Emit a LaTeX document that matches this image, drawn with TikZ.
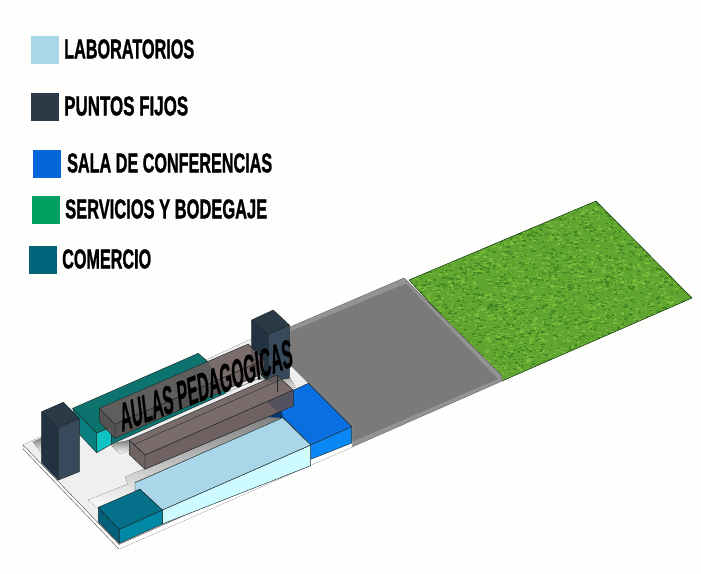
\documentclass[tikz,border=0pt]{standalone}
\usepackage{fontspec}
\setmainfont{Liberation Sans}
\newfontfamily\legendfont[FakeBold=1.5]{Liberation Sans Bold}
\newfontfamily\slantfont[FakeBold=0.6,FakeSlant=0.6]{Liberation Sans Bold}
\usepackage{graphicx}
\definecolor{bgc}{HTML}{FEFEFC}
\definecolor{labtop}{HTML}{A9D6E8}
\definecolor{labfront}{HTML}{CDFBFF}
\definecolor{towtop}{HTML}{2A3A47}
\definecolor{towleft}{HTML}{233240}
\definecolor{towright}{HTML}{37495A}
\definecolor{bluetop}{HTML}{0A6FE0}
\definecolor{bluefront}{HTML}{0A86F5}
\definecolor{legblue}{HTML}{0566D9}
\definecolor{leggreen}{HTML}{00A063}
\definecolor{legteal}{HTML}{00647A}
\definecolor{comtop}{HTML}{04708A}
\definecolor{comleft}{HTML}{03607A}
\definecolor{comfront}{HTML}{0188A5}
\definecolor{tealtop}{HTML}{0C736F}
\definecolor{tealleft}{HTML}{0A7F80}
\definecolor{tealfront}{HTML}{10C3C3}
\definecolor{slabc}{HTML}{7A7A7A}
\definecolor{slabrim}{HTML}{939393}
\definecolor{plate}{HTML}{EFEFEF}
\definecolor{shade}{HTML}{9C9C9C}
\definecolor{halltop}{HTML}{6C5B5B}
\definecolor{hallfront}{HTML}{5F4F4F}
\definecolor{grassa}{HTML}{5FA52F}
\definecolor{grassb}{HTML}{3A7C22}
\definecolor{grassc}{HTML}{86C440}
\definecolor{edgec}{HTML}{1E2A2A}
\tikzset{
  face/.style={draw=edgec,line width=0.45pt,line join=round},
  swatch/.style={minimum width=28pt,minimum height=28pt,inner sep=0pt,anchor=north west},
  legendtext/.style={anchor=west,inner sep=0pt,text=black},
  hall/.style={face,fill opacity=0.88}
}
\newcommand{\legtxt}[2]{\resizebox{#1pt}{19pt}{\legendfont #2}}
\begin{document}
\begin{tikzpicture}[x=1pt,y=-1pt]
\useasboundingbox (0,0) rectangle (701,573);
\fill[bgc] (0,0) rectangle (701,573);
% legend
\node[swatch,fill=labtop] (s1) at (31,36) {};
\node[swatch,fill=towtop] (s2) at (31,93) {};
\node[swatch,fill=legblue] (s3) at (33,150) {};
\node[swatch,fill=leggreen] (s4) at (32,196) {};
\node[swatch,fill=legteal] (s5) at (29,246) {};
\node[legendtext] (t1) at (64,49) {\legtxt{130}{LABORATORIOS}};
\node[legendtext] (t2) at (64,106) {\legtxt{124}{PUNTOS FIJOS}};
\node[legendtext] (t3) at (67,163) {\legtxt{205}{SALA DE CONFERENCIAS}};
\node[legendtext] (t4) at (65,209) {\legtxt{202}{SERVICIOS Y BODEGAJE}};
\node[legendtext] (t5) at (62,259) {\legtxt{89}{COMERCIO}};
% grass
\begin{scope}
\clip (409,280) -- (596,201) -- (692,298) -- (502,381) -- cycle;
\fill[grassa] (400,195) rectangle (695,385);
\pgfmathsetseed{11}
\foreach \c/\n in {grassb/2600,grassc/2600}{
  \foreach \i in {1,...,\n}{
    \pgfmathsetmacro{\px}{405+rnd*290}
    \pgfmathsetmacro{\py}{198+rnd*186}
    \pgfmathsetmacro{\dx}{1+rnd*3}
    \fill[\c,opacity=0.65] (\px,\py) rectangle +(\dx,1.4);
  }
}
\end{scope}
\draw[face,draw=black!70!green!50!black] (409,280) -- (596,201) -- (692,298) -- (502,381) -- cycle;
% grey slab
\fill[slabrim,draw=black!60,line width=0.4pt] (255,342) -- (404,278) -- (502,376) -- (502,381) -- (352,447) -- cycle;
\fill[slabc] (255,346) -- (406,283.5) -- (498,379) -- (354,441) -- cycle;
% plate
\fill[white,draw=black!70,line width=0.4pt] (23,445) -- (23,449) -- (119,549) -- (352,447) -- (352,427) -- (260,335) -- cycle;
\fill[plate] (23,445) -- (260,335) -- (352,427) -- (310.7,459) -- (119,544.5) -- cycle;
\fill[white] (119,544.5) -- (352,442) -- (352,447) -- (119,549) -- cycle;
\draw[black!70,line width=0.4pt] (23,445) -- (119,544.5) -- (310.7,459.3);
% shadows on plate
\fill[shade] (33,442) -- (41.7,438) -- (41.7,453) -- cycle;
\fill[shade] (125,476.7) -- (146.7,468) -- (266.7,416.7) -- (283,418) -- (135,482) -- (135,492) -- (98,508) -- (88,500) -- (128,484) -- cycle;
\fill[shade] (110,444) -- (130,440) -- (130,450) -- (120,454) -- cycle;
\fill[shade] (226,393) -- (258,379) -- (296,388) -- (290,378) -- (276,370) -- cycle;
% teal block
\path[face,fill=tealleft] (72.7,408.3) -- (96.7,433) -- (96.7,452.7) -- (80,435) -- cycle;
\path[face,fill=tealfront] (96.7,433) -- (111.7,427) -- (111.7,444) -- (96.7,452.7) -- cycle;
\path[face,fill=tealtop] (72.7,408.3) -- (198.3,353.3) -- (206.7,360.7) -- (226,393) -- (111.7,444) -- (111.7,427) -- (96.7,433) -- cycle;
% left tower
\path[face,fill=towleft] (41.7,411.7) -- (58.3,427.3) -- (58.3,480) -- (41.7,463) -- cycle;
\path[face,fill=towright] (58.3,427.3) -- (79.3,418.3) -- (79.3,471.7) -- (58.3,480) -- cycle;
\path[face,fill=towtop] (41.7,411.7) -- (63.3,402.3) -- (79.3,418.3) -- (58.3,427.3) -- cycle;
% right tower
\path[face,fill=towleft] (251.7,320) -- (268.3,334.3) -- (268.3,382) -- (251.7,366) -- cycle;
\path[face,fill=towright] (268.3,334.3) -- (289.3,325) -- (289.3,378) -- (268.3,382) -- cycle;
\path[face,fill=towtop] (251.7,320) -- (273.3,310) -- (289.3,325) -- (268.3,334.3) -- cycle;
% sala de conferencias
\path[face,fill=bluetop] (308.3,383.3) -- (351.7,426.7) -- (310.7,445) -- (268,402) -- cycle;
\fill[black!50!bluetop] (268,417) -- (281.7,410) -- (283,418) -- cycle;
\path[face,fill=bluefront] (310.7,445) -- (351.7,426.7) -- (351.7,443) -- (310.7,459.3) -- cycle;
% laboratorios
\path[face,fill=labfront] (162.3,510) -- (310.7,445) -- (310.7,465.7) -- (162.3,524) -- cycle;
\path[face,fill=labtop] (135,482.7) -- (282.7,417.7) -- (310.7,445) -- (162.3,510) -- (140,489.3) -- (135,491) -- cycle;
% comercio
\path[face,fill=comleft] (98.3,507.3) -- (119.3,529.3) -- (119.3,543.3) -- (98.3,521.7) -- cycle;
\path[face,fill=comfront] (119.3,529.3) -- (162.3,510) -- (162.3,524) -- (119.3,543.3) -- cycle;
\path[face,fill=comtop] (98.3,507.3) -- (140,489.3) -- (162.3,510) -- (119.3,529.3) -- cycle;
% upper hall
\path[hall,fill=hallfront] (99.3,408.3) -- (115,424.3) -- (115,438.3) -- (99.3,421.7) -- cycle;
\path[hall,fill=hallfront] (115,424.3) -- (264,360) -- (264,373) -- (115,438.3) -- cycle;
\path[hall,fill=halltop] (99.3,408.3) -- (248.3,344) -- (264,360) -- (115,424.3) -- cycle;
% lower hall
\path[hall,fill=hallfront] (129.3,440) -- (145,455) -- (145,469.3) -- (129.3,454.3) -- cycle;
\path[hall,fill=hallfront] (145,455) -- (293.3,390) -- (293.3,406) -- (145,469.3) -- cycle;
\path[hall,fill=halltop] (129.3,440) -- (276.7,375) -- (293.3,390) -- (145,455) -- cycle;
\draw[edgec,line width=0.4pt] (133,445) -- (280,380);
\draw[edgec,line width=0.4pt] (277,375) -- (277,392);
% title
\node[inner sep=0pt,rotate=21,text=black] (aulas) at (203,386.5) {\resizebox{184pt}{27pt}{\slantfont AULAS PEDAGOGICAS}};
\end{tikzpicture}
\end{document}
